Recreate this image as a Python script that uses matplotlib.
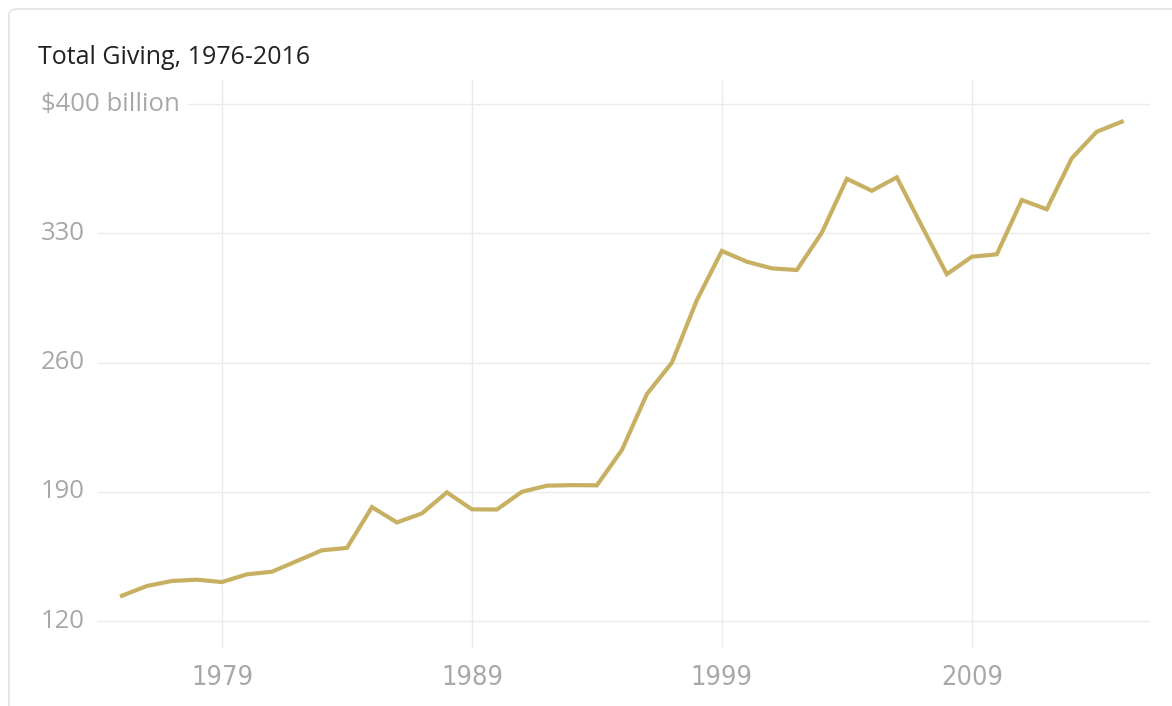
import matplotlib
matplotlib.use("Agg")
import matplotlib.pyplot as plt
from matplotlib.patches import FancyBboxPatch
from matplotlib.transforms import blended_transform_factory

# Total giving, billions of dollars
years = list(range(1976, 2017))
giving = [133.7, 139.0, 141.7, 142.4, 141.1, 145.3, 146.7, 152.5, 158.3, 159.6,
          181.7, 173.4, 178.3, 189.7, 180.5, 180.4, 190.0, 193.3, 193.6, 193.5,
          212.6, 242.9, 259.9, 293.8, 320.4, 314.6, 311.0, 310.1, 330.3, 359.5,
          353.0, 360.3, 333.9, 307.8, 317.3, 318.6, 348.0, 343.0, 370.6, 385.0,
          390.4]

ytick_vals = [120, 190, 260, 330, 400]
ytick_labels = ["120", "190", "260", "330", "$400 billion"]
xtick_pos = [1980, 1990, 2000, 2010]
xtick_labels = ["1979", "1989", "1999", "2009"]

W, H = 1172, 706
fig = plt.figure(figsize=(W / 100, H / 100), dpi=100)

# card outline
card = FancyBboxPatch((9 / W, -0.1), 1.2, 1.1 - 9 / H,
                      boxstyle="round,pad=0,rounding_size=0.008",
                      transform=fig.transFigure, facecolor="none",
                      edgecolor="#e3e3e3", linewidth=1.2, zorder=-1)
fig.patches.append(card)

ax = fig.add_axes([97 / W, 1 - 648 / H, (1150 - 97) / W, (648 - 80) / H])
ax.set_facecolor("none")
ax.plot(years, giving, color="#c8b062", linewidth=3, solid_joinstyle="miter", zorder=3)

ax.set_xlim(1975.0, 2017.13)
ax.set_ylim(105.4, 413.0)

for s in ax.spines.values():
    s.set_visible(False)

for v in ytick_vals:
    ax.axhline(v, color="#ebebeb", linewidth=1, zorder=1)
for p in xtick_pos:
    ax.axvline(p, color="#ebebeb", linewidth=1, zorder=1)

ax.set_yticks([])
ax.set_xticks(xtick_pos)
ax.set_xticklabels(xtick_labels, family="DejaVu Sans", fontstretch="condensed",
                   fontsize=19.5, color="#a8a8a8")
ax.tick_params(axis="x", length=0, pad=12)

trans = blended_transform_factory(fig.transFigure, ax.transData)
for v, lab in zip(ytick_vals, ytick_labels):
    ax.text(41 / W, v, lab, transform=trans, ha="left", va="center",
            fontsize=18.5, color="#a8a8a8", family=["Open Sans", "DejaVu Sans"],
            clip_on=False, zorder=5,
            bbox=dict(boxstyle="square,pad=0.3", facecolor="white", edgecolor="none"))

fig.text(38 / W, 1 - 57 / H, "Total Giving, 1976-2016", ha="left", va="center",
         fontsize=18, color="#222222", family=["Open Sans", "DejaVu Sans"])

fig.savefig("out.png", dpi=100)
